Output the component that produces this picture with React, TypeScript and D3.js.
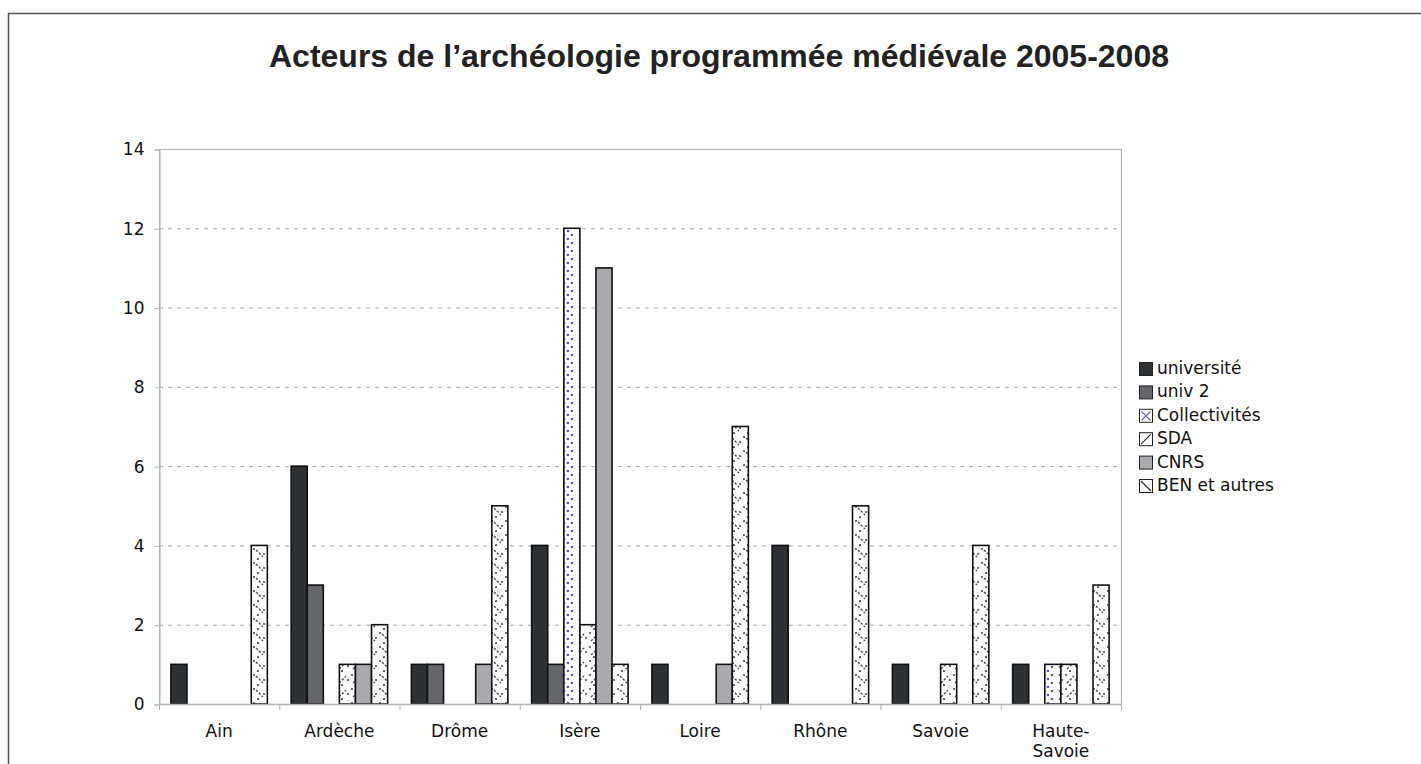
import { useEffect, useRef } from "react";
import * as d3 from "d3";

const categories = ["Ain", "Ardèche", "Drôme", "Isère", "Loire", "Rhône", "Savoie", "Haute-Savoie"];
const seriesNames = ["université", "univ 2", "Collectivités", "SDA", "CNRS", "BEN et autres"];

// one array per series, in category order
const universite = [1, 6, 1, 4, 1, 4, 1, 1];
const univ2 = [0, 3, 1, 1, 0, 0, 0, 0];
const collectivites = [0, 0, 0, 12, 0, 0, 0, 1];
const sda = [0, 1, 0, 2, 0, 0, 1, 1];
const cnrs = [0, 1, 1, 11, 1, 0, 0, 0];
const benAutres = [4, 2, 5, 1, 7, 5, 4, 3];

const yTicks = [0, 2, 4, 6, 8, 10, 12, 14];
const seriesValues = [universite, univ2, collectivites, sda, cnrs, benAutres];

const fills = [
  "#2e3134",
  "#646669",
  "url(#pat-coll)",
  "url(#pat-sda)",
  "#a8aaad",
  "url(#pat-ben)",
];

export default function App() {
  const svgRef = useRef<SVGSVGElement>(null);

  useEffect(() => {
    if (!svgRef.current) return;
    const svg = d3.select(svgRef.current);
    svg.selectAll("*").remove();

    const width = 1421;
    const height = 764;
    const plot = { left: 159, right: 1121, top: 149, bottom: 704 };
    const font = "'DejaVu Sans', Verdana, sans-serif";

    // patterns
    const defs = svg.append("defs");
    const coll = defs
      .append("pattern")
      .attr("id", "pat-coll")
      .attr("patternUnits", "userSpaceOnUse")
      .attr("width", 16)
      .attr("height", 16);
    coll.append("rect").attr("width", 16).attr("height", 16).attr("fill", "#fff");
    [[4, 3], [12, 3], [8, 7], [4, 11], [12, 11], [8, 15]].forEach(([cx, cy]) =>
      coll.append("circle").attr("cx", cx).attr("cy", cy).attr("r", 1.3).attr("fill", "#5a5ab4")
    );

    const hatch = (id: string, dir: "/" | "\\") => {
      const p = defs
        .append("pattern")
        .attr("id", id)
        .attr("patternUnits", "userSpaceOnUse")
        .attr("width", 14)
        .attr("height", 14);
      p.append("rect").attr("width", 14).attr("height", 14).attr("fill", "#fff");
      if (dir === "/") {
        p.append("line").attr("x1", 3).attr("y1", 11).attr("x2", 10).attr("y2", 4)
          .attr("stroke", "#505050").attr("stroke-width", 1.4).attr("stroke-dasharray", "2.5,1.5");
      } else {
        p.append("line").attr("x1", 4).attr("y1", 4).attr("x2", 11).attr("y2", 11)
          .attr("stroke", "#505050").attr("stroke-width", 1.4).attr("stroke-dasharray", "2.5,1.5");
      }
      [[2, 3], [12, 8], [6, 13]].forEach(([cx, cy]) =>
        p.append("circle").attr("cx", cx).attr("cy", cy).attr("r", 1.1).attr("fill", "#505050")
      );
    };
    hatch("pat-sda", "/");
    hatch("pat-ben", "\\");

    // frame
    svg
      .append("rect")
      .attr("x", 8.5)
      .attr("y", 13.5)
      .attr("width", width + 20)
      .attr("height", height + 20)
      .attr("fill", "#fff")
      .attr("stroke", "#555")
      .attr("stroke-width", 1.5);

    // title
    svg
      .append("text")
      .attr("x", 719)
      .attr("y", 67)
      .attr("text-anchor", "middle")
      .attr("font-family", "'Liberation Sans', Arial, sans-serif")
      .attr("font-weight", "bold")
      .attr("font-size", "32px")
      .attr("fill", "#222")
      .text("Acteurs de l’archéologie programmée médiévale 2005-2008");

    const xScale = d3
      .scaleBand<string>()
      .domain(categories)
      .range([plot.left, plot.right])
      .paddingInner(0)
      .paddingOuter(0);

    const xInner = d3
      .scaleBand<number>()
      .domain(d3.range(seriesNames.length))
      .range([0, xScale.bandwidth()])
      .paddingInner(0)
      .paddingOuter(0.74);

    const yScale = d3.scaleLinear().domain([0, 14]).range([plot.bottom, plot.top]);

    // gridlines
    svg
      .append("g")
      .selectAll("line")
      .data(yTicks.filter(t => t > 0 && t < 14))
      .enter()
      .append("line")
      .attr("x1", plot.left)
      .attr("x2", plot.right)
      .attr("y1", d => yScale(d) + 0.5)
      .attr("y2", d => yScale(d) + 0.5)
      .attr("stroke", "#a9a9a9")
      .attr("stroke-dasharray", "4,5");

    // plot border
    svg
      .append("rect")
      .attr("x", plot.left + 0.5)
      .attr("y", plot.top + 0.5)
      .attr("width", plot.right - plot.left)
      .attr("height", plot.bottom - plot.top)
      .attr("fill", "none")
      .attr("stroke", "#b4b4ba")
      .attr("stroke-width", 1.2);

    // bars
    seriesValues.forEach((vals, si) => {
      svg
        .append("g")
        .selectAll("rect")
        .data(vals.map((v, ci) => ({ v, c: categories[ci] })).filter(d => d.v > 0))
        .enter()
        .append("rect")
        .attr("x", d => (xScale(d.c) as number) + (xInner(si) as number))
        .attr("y", d => yScale(d.v))
        .attr("width", xInner.bandwidth())
        .attr("height", d => yScale(0) - yScale(d.v))
        .attr("fill", fills[si])
        .attr("stroke", "#111")
        .attr("stroke-width", 1.6);
    });

    // y axis
    const yAxis = d3
      .axisLeft(yScale)
      .tickValues(yTicks)
      .tickSize(5)
      .tickPadding(10)
      .tickFormat(d3.format("d"));
    const yg = svg
      .append("g")
      .attr("transform", `translate(${plot.left + 0.5},0.5)`)
      .call(yAxis);
    yg.select(".domain").attr("stroke", "#b4b4ba");
    yg.selectAll(".tick line").attr("stroke", "#b4b4ba");
    yg.selectAll(".tick text")
      .attr("font-family", font)
      .attr("font-size", "17px")
      .attr("fill", "#111");

    // x axis ticks between categories
    svg
      .append("g")
      .selectAll("line")
      .data(d3.range(categories.length + 1))
      .enter()
      .append("line")
      .attr("x1", i => plot.left + 0.5 + i * xScale.step())
      .attr("x2", i => plot.left + 0.5 + i * xScale.step())
      .attr("y1", plot.bottom)
      .attr("y2", plot.bottom + 6)
      .attr("stroke", "#b4b4ba");
    svg
      .append("line")
      .attr("x1", plot.left)
      .attr("x2", plot.right)
      .attr("y1", plot.bottom + 0.5)
      .attr("y2", plot.bottom + 0.5)
      .attr("stroke", "#b4b4ba")
      .attr("stroke-width", 1.5);

    // category labels
    const labels = svg
      .append("g")
      .selectAll("text")
      .data(categories)
      .enter()
      .append("text")
      .attr("x", d => (xScale(d) as number) + xScale.bandwidth() / 2)
      .attr("y", 737)
      .attr("text-anchor", "middle")
      .attr("font-family", font)
      .attr("font-size", "17px")
      .attr("fill", "#111");
    labels.each(function (d) {
      const t = d3.select(this);
      if (d === "Haute-Savoie") {
        const x = t.attr("x");
        t.append("tspan").attr("x", x).text("Haute-");
        t.append("tspan").attr("x", x).attr("dy", 20).text("Savoie");
      } else {
        t.text(d);
      }
    });

    // legend
    const legend = svg.append("g").attr("transform", "translate(1139, 362)");
    seriesNames.forEach((name, i) => {
      const item = legend.append("g").attr("transform", `translate(0, ${i * 23.4})`);
      const fill = i === 0 || i === 1 || i === 4 ? fills[i] : "#fff";
      item
        .append("rect")
        .attr("x", 0.5)
        .attr("y", 0.5)
        .attr("width", 13)
        .attr("height", 13)
        .attr("fill", fill)
        .attr("stroke", "#222")
        .attr("stroke-width", 1);
      if (i === 2) {
        item.append("path").attr("d", "M2.5,2.5L11.5,11.5M11.5,2.5L2.5,11.5").attr("stroke", "#5a5ab4").attr("stroke-width", 1.2);
      } else if (i === 3) {
        item.append("line").attr("x1", 2).attr("y1", 12).attr("x2", 12).attr("y2", 2).attr("stroke", "#333").attr("stroke-width", 1.2);
      } else if (i === 5) {
        item.append("line").attr("x1", 2).attr("y1", 2).attr("x2", 12).attr("y2", 12).attr("stroke", "#333").attr("stroke-width", 1.2);
      }
      item
        .append("text")
        .attr("x", 18)
        .attr("y", 12)
        .attr("font-family", font)
        .attr("font-size", "17px")
        .attr("fill", "#111")
        .text(name);
    });
  }, []);

  return (
    <div style={{ position: "absolute", left: 0, top: 0, width: 1421, height: 764, overflow: "hidden" }}>
      <svg ref={svgRef} width={1421} height={764} viewBox="0 0 1421 764" style={{ display: "block" }} />
    </div>
  );
}
